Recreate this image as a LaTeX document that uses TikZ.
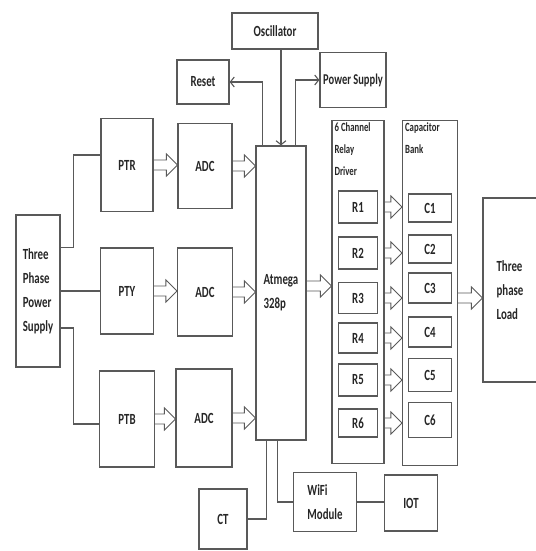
\documentclass[tikz,border=0pt]{standalone}
\usepackage{fontspec}
\setmainfont[FakeStretch=0.7]{Carlito}
\usetikzlibrary{arrows.meta,calc}
\definecolor{blockline}{HTML}{595959}
\definecolor{blockink}{HTML}{262626}

\begin{document}
\begin{tikzpicture}[
        x=1pt,y=-1pt,
        >={Straight Barb[length=4pt,width=10pt]},
        box/.style={draw=blockline,line width=1.2pt,inner sep=1pt,align=left,
          font=\fontsize{15.5}{24}\selectfont\bfseries,text=blockink},
        tag/.style={anchor=north west,inner sep=3pt,align=left,
          font=\fontsize{12.5}{22}\selectfont\bfseries,text=blockink},
        wire/.style={draw=blockline,line width=1.1pt},
        fatarrow/.style={draw=blockline,line width=0.9pt,line join=miter,
          to path={($(\tikztostart)+(0,-5)$) -- ($(\tikztotarget)+(-11,-5)$)
            -- ($(\tikztotarget)+(-11,-11)$) -- (\tikztotarget)
            -- ($(\tikztotarget)+(-11,11)$) -- ($(\tikztotarget)+(-11,5)$)
            -- ($(\tikztostart)+(0,5)$)}}
      ]
        \useasboundingbox (0,0) rectangle (535,551);

        \node[box,minimum width=86,minimum height=36] (osc) at (275,31) {Oscillator};
        \node[box,minimum width=52,minimum height=44] (reset) at (203,82) {Reset};
        \node[box,minimum width=66,minimum height=55,
          font=\fontsize{15}{24}\selectfont\bfseries] (psu) at (353,80) {Power Supply};

        \node[box,minimum width=44,minimum height=152] (tps) at (38,291) {Three\\Phase\\Power\\Supply};

        \node[box,minimum width=52,minimum height=93] (ptr) at (127,165) {PTR};
        \node[box,minimum width=54,minimum height=85] (adc1) at (205,166) {ADC};
        \node[box,minimum width=53,minimum height=86] (pty) at (127,291) {PTY};
        \node[box,minimum width=55,minimum height=88] (adc2) at (205,292) {ADC};
        \node[box,minimum width=55,minimum height=96] (ptb) at (127,419) {PTB};
        \node[box,minimum width=56,minimum height=98] (adc3) at (204,418) {ADC};

        \node[box,minimum width=50,minimum height=294] (atmega) at (281,293) {Atmega\\328p};

        \node[box,minimum width=52,minimum height=343,
          label={[tag]north west:6 Channel\\Relay\\Driver}] (driver) at (358,292) {};
        \node[box,minimum width=55,minimum height=345,
          label={[tag]north west:Capacitor\\Bank}] (bank) at (430,293) {};

        \node[box,minimum width=39,minimum height=32] (r1) at (358,207) {R1};
        \node[box,minimum width=39,minimum height=32] (r2) at (358,253) {R2};
        \node[box,minimum width=39,minimum height=31] (r3) at (358,298) {R3};
        \node[box,minimum width=39,minimum height=30] (r4) at (358,338) {R4};
        \node[box,minimum width=39,minimum height=32] (r5) at (358,380) {R5};
        \node[box,minimum width=39,minimum height=28] (r6) at (358,423) {R6};

        \node[box,minimum width=43,minimum height=28] (c1) at (430,208) {C1};
        \node[box,minimum width=43,minimum height=28] (c2) at (430,249) {C2};
        \node[box,minimum width=43,minimum height=30] (c3) at (430,288) {C3};
        \node[box,minimum width=43,minimum height=30] (c4) at (430,332) {C4};
        \node[box,minimum width=43,minimum height=33] (c5) at (430,375) {C5};
        \node[box,minimum width=43,minimum height=35] (c6) at (430,420) {C6};

        \node[box,minimum width=54,minimum height=184] (load) at (510,290) {Three\\phase\\Load};

        \node[box,minimum width=48,minimum height=60] (ct) at (223,519) {CT};
        \node[box,minimum width=63,minimum height=59] (wifi) at (325,502) {WiFi\\Module};
        \node[box,minimum width=53,minimum height=56] (iot) at (411,503) {IOT};

        \draw[wire] ([yshift=-33pt]tps.north east) -- ++(13,0) |- ([yshift=10pt]ptr.west);
        \draw[wire] (tps.east |- pty) -- (pty.west);
        \draw[wire] ([yshift=-37pt]tps.east) -- ++(13,0) |- ([yshift=-5pt]ptb.west);

        \draw[fatarrow] (ptr.east) to (ptr.east -| adc1.west);
        \draw[fatarrow] (adc1.east) to (adc1.east -| atmega.west);
        \draw[fatarrow] (pty.east) to (pty.east -| adc2.west);
        \draw[fatarrow] (adc2.east) to (adc2.east -| atmega.west);
        \draw[fatarrow] (ptb.east) to (ptb.east -| adc3.west);
        \draw[fatarrow] (adc3.east) to (adc3.east -| atmega.west);

        \draw[wire,->] ([xshift=7pt]atmega.north west) |- (reset.east);
        \draw[wire,->] (osc.south -| atmega.north) -- (atmega.north);
        \draw[wire,->] ([xshift=-11pt]atmega.north east) |- (psu.west);

        \coordinate (mcuout) at ([yshift=7pt]atmega.east);
        \draw[fatarrow] (mcuout) to (mcuout -| driver.west);

        \foreach \i in {1,...,6}
          \draw[fatarrow] (driver.east |- r\i) to (bank.west |- r\i);

        \coordinate (bankout) at ([yshift=-5pt]bank.east);
        \draw[fatarrow] (bankout) to (bankout -| load.west);

        \draw[wire] (ct.east) -| ([xshift=11pt]atmega.south west);
        \draw[wire] ([xshift=22pt]atmega.south west) |- (wifi.west);
        \draw[wire] (wifi.east) -- (wifi.east -| iot.west);
      \end{tikzpicture}
\end{document}
